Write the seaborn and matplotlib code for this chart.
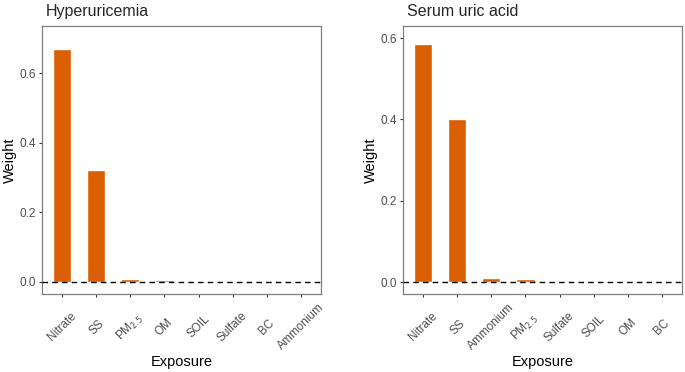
import numpy as np
import pandas as pd
import seaborn as sns
import matplotlib.pyplot as plt

sns.set_style('white')
plt.rcParams.update({'font.family': ['Liberation Sans', 'DejaVu Sans']})

# weights
hyper_exposure = ['Nitrate', 'SS', 'PM$_{2.5}$', 'OM', 'SOIL', 'Sulfate', 'BC', 'Ammonium']
hyper_weight = [0.668, 0.322, 0.009, 0.007, 0.003, 0.0005, 0.0003, 0.0002]

sua_exposure = ['Nitrate', 'SS', 'Ammonium', 'PM$_{2.5}$', 'Sulfate', 'SOIL', 'OM', 'BC']
sua_weight = [0.585, 0.401, 0.009, 0.007, 0.002, 0.0015, 0.0003, 0.0002]

bar_col = '#D95F02'
edge_col = '#7F7F7F'

fig = plt.figure(figsize=(6.85, 3.72), dpi=100)
ax1 = fig.add_axes([42/685, 78/372, 279/685, 268/372])
ax2 = fig.add_axes([403/685, 78/372, 279/685, 268/372])

panels = [(ax1, hyper_exposure, hyper_weight, 'Hyperuricemia', (-0.0345, 0.735)),
          (ax2, sua_exposure, sua_weight, 'Serum uric acid', (-0.0295, 0.63))]

for ax, cats, vals, title, ylim in panels:
    df = pd.DataFrame({'Exposure': cats, 'Weight': vals})
    sns.barplot(data=df, x='Exposure', y='Weight', color=bar_col, width=0.53,
                saturation=1, ax=ax)
    ax.axhline(0, color='black', linestyle=(0, (4, 3)), linewidth=1.0, zorder=3)
    ax.set_xlim(-0.6, len(cats) - 0.4)
    ax.set_ylim(*ylim)
    ax.set_yticks([0.0, 0.2, 0.4, 0.6])
    ax.set_yticklabels(['0.0', '0.2', '0.4', '0.6'])
    ax.set_xticks(range(len(cats)))
    ax.set_xticklabels(cats, rotation=45, ha='center', va='center')
    ax.tick_params(axis='both', colors='#333333', labelcolor='#4D4D4D',
                   labelsize=8.5, length=2.2, width=0.8, direction='out',
                   left=True, bottom=True)
    ax.tick_params(axis='x', pad=21.5)
    ax.tick_params(axis='y', pad=2)
    for s in ax.spines.values():
        s.set_color(edge_col)
        s.set_linewidth(0.9)
    ax.set_xlabel('Exposure', fontsize=10.5, color='black', labelpad=2)
    ax.set_ylabel('Weight', fontsize=10.5, color='black', labelpad=2)
    ax.set_title(title, loc='left', fontsize=11.5, pad=7, x=0.015)

fig.savefig('out.png', dpi=100)
